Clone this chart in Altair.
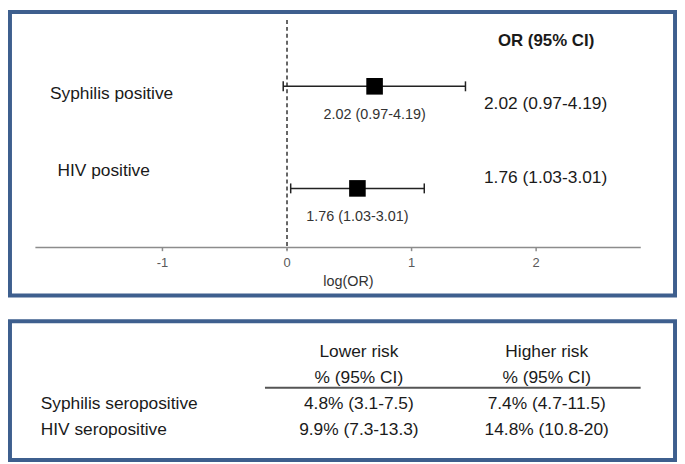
import altair as alt
import pandas as pd
import numpy as np

# ---------------- data ----------------
outcomes = ["Syphilis positive", "HIV positive"]
odds_ratio = [2.02, 1.76]
ci_low = [0.97, 1.03]
ci_high = [4.19, 3.01]
or_header = "OR (95%  CI)"
x_ticks = [-1, 0, 1, 2]
x_title = "log(OR)"

risk_groups = ["Lower risk", "Higher risk"]
risk_sub = "% (95% CI)"
table_rows = ["Syphilis seropositive", "HIV seropositive"]
lower_risk = ["4.8% (3.1-7.5)", "9.9% (7.3-13.3)"]
higher_risk = ["7.4% (4.7-11.5)", "14.8% (10.8-20)"]

# ---------------- style / layout ----------------
FONT = "Liberation Sans"
TXT = "#1a1a1a"
BORDER = "#3E5F8E"
W = 671
H_TOP = 286
H_BOT = 140

forest = pd.DataFrame({
    "outcome": outcomes,
    "row": list(range(1, len(outcomes) + 1)),
    "log_or": np.log(odds_ratio),
    "log_lo": np.log(ci_low),
    "log_hi": np.log(ci_high),
    "label": [f"{o:.2f} ({l:.2f}-{h:.2f})" for o, l, h in zip(odds_ratio, ci_low, ci_high)],
})

xs = alt.Scale(domain=[-2.224, 3.115], nice=False, zero=False)
ys = alt.Scale(domain=[0.272, 3.049], reverse=True, nice=False, zero=False)
AXIS_ROW = 2.58
AXIS_EXT = [-2.02, 2.84]

def X(f):
    return alt.X(f, scale=xs, axis=None)

def Y(f):
    return alt.Y(f, scale=ys, axis=None)

base = alt.Chart(forest)

ref_line = alt.Chart(pd.DataFrame({"ref": [0.0]})).mark_rule(
    strokeDash=[4, 3], color="#333333", strokeWidth=1.5
).encode(x=X("ref:Q"), y=alt.YDatum(0.35, scale=ys, axis=None), y2=alt.datum(2.60))

axis_line = alt.Chart(pd.DataFrame({"a": [AXIS_EXT[0]], "b": [AXIS_EXT[1]]})).mark_rule(
    color="#8c8c8c", strokeWidth=1.5
).encode(x=X("a:Q"), x2="b:Q", y=alt.YDatum(AXIS_ROW, scale=ys, axis=None))

ticks_df = pd.DataFrame({"t": x_ticks, "lab": [str(t) for t in x_ticks]})
tick_marks = alt.Chart(ticks_df).mark_rule(color="#8c8c8c", strokeWidth=1.5).encode(
    x=X("t:Q"), y=alt.YDatum(AXIS_ROW, scale=ys, axis=None), y2=alt.datum(AXIS_ROW + 0.035)
)
tick_labels = alt.Chart(ticks_df).mark_text(
    font=FONT, fontSize=13, color="#595959", dy=16, baseline="middle"
).encode(x=X("t:Q"), y=alt.YDatum(AXIS_ROW, scale=ys, axis=None), text="lab:N")

axis_title = alt.Chart(pd.DataFrame({"t": [x_title]})).mark_text(
    font=FONT, fontSize=14.5, color="#333333", dy=35, baseline="middle"
).encode(x=alt.XDatum(0.493, scale=xs, axis=None), y=alt.YDatum(AXIS_ROW, scale=ys, axis=None), text="t:N")

ci_rule = base.mark_rule(color="#222222", strokeWidth=1.5).encode(
    x=X("log_lo:Q"), x2="log_hi:Q", y=Y("row:Q")
)
cap_lo = base.mark_tick(orient="vertical", size=10, thickness=1.5, color="#222222", opacity=1).encode(
    x=X("log_lo:Q"), y=Y("row:Q")
)
cap_hi = base.mark_tick(orient="vertical", size=10, thickness=1.5, color="#222222", opacity=1).encode(
    x=X("log_hi:Q"), y=Y("row:Q")
)
squares = base.mark_square(size=280, color="black", opacity=1, filled=True).encode(
    x=X("log_or:Q"), y=Y("row:Q")
)
under_labels = base.mark_text(
    font=FONT, fontSize=14.5, color="#333333", dy=29, baseline="middle"
).encode(x=X("log_or:Q"), y=Y("row:Q"), text="label:N")

header = alt.Chart(pd.DataFrame({"t": [or_header]})).mark_text(
    font=FONT, fontSize=17, fontWeight="bold", color=TXT, baseline="middle"
).encode(x=alt.XDatum(2.08, scale=xs, axis=None), y=alt.YDatum(0.558, scale=ys, axis=None), text="t:N")

LEFT_X = -1.44
left_dx = [4, -4]
left_dy = [8, -18]
right_dy = [18, -10.5]
row_layers = []
for i in range(len(outcomes)):
    sub = alt.Chart(forest.iloc[[i]])
    row_layers.append(sub.mark_text(
        font=FONT, fontSize=17.5, color=TXT, dx=left_dx[i], dy=left_dy[i], baseline="middle"
    ).encode(x=alt.XDatum(LEFT_X, scale=xs, axis=None), y=Y("row:Q"), text="outcome:N"))
    row_layers.append(sub.mark_text(
        font=FONT, fontSize=17.5, color=TXT, dy=right_dy[i], baseline="middle"
    ).encode(x=alt.XDatum(2.076, scale=xs, axis=None), y=Y("row:Q"), text="label:N"))

top = alt.layer(
    ref_line, axis_line, tick_marks, tick_labels, axis_title,
    ci_rule, cap_lo, cap_hi, squares, under_labels, header, *row_layers
).properties(width=W, height=H_TOP)

# ---------------- table ----------------
LABEL_COL = -0.694
cells = []
for j, g in enumerate(risk_groups):
    cells.append({"text": g, "col": j + 1, "row": 0})
    cells.append({"text": risk_sub, "col": j + 1, "row": 1})
for i, r in enumerate(table_rows):
    cells.append({"text": lower_risk[i], "col": 1, "row": i + 2})
    cells.append({"text": higher_risk[i], "col": 2, "row": i + 2})
cells_df = pd.DataFrame(cells)
labels_df = pd.DataFrame({"text": table_rows, "col": LABEL_COL, "row": [i + 2 for i in range(len(table_rows))]})

txs = alt.Scale(domain=[-0.8575, 2.683], nice=False, zero=False)
tys = alt.Scale(domain=[-1.179, 4.144], reverse=True, nice=False, zero=False)

cells_layer = alt.Chart(cells_df).mark_text(
    font=FONT, fontSize=17.5, color=TXT, baseline="middle", align="center"
).encode(
    x=alt.X("col:Q", scale=txs, axis=None),
    y=alt.Y("row:Q", scale=tys, axis=None),
    text="text:N",
)
labels_layer = alt.Chart(labels_df).mark_text(
    font=FONT, fontSize=17.5, color=TXT, baseline="middle", align="left"
).encode(
    x=alt.X("col:Q", scale=txs, axis=None),
    y=alt.Y("row:Q", scale=tys, axis=None),
    text="text:N",
)
header_rule = alt.Chart(pd.DataFrame({"a": [0.5], "b": [2.5]})).mark_rule(
    color="#555555", strokeWidth=2
).encode(
    x=alt.X("a:Q", scale=txs, axis=None), x2="b:Q",
    y=alt.YDatum(1.37, scale=tys, axis=None),
)

bottom = alt.layer(header_rule, cells_layer, labels_layer).properties(width=W, height=H_BOT)

chart = alt.vconcat(top, bottom, spacing=22).properties(
    padding=0,
    background="white",
).configure_view(stroke=BORDER, strokeWidth=4).resolve_scale(x="independent", y="independent")

chart.save("out.html", embed_options={"renderer": "svg", "actions": False})
